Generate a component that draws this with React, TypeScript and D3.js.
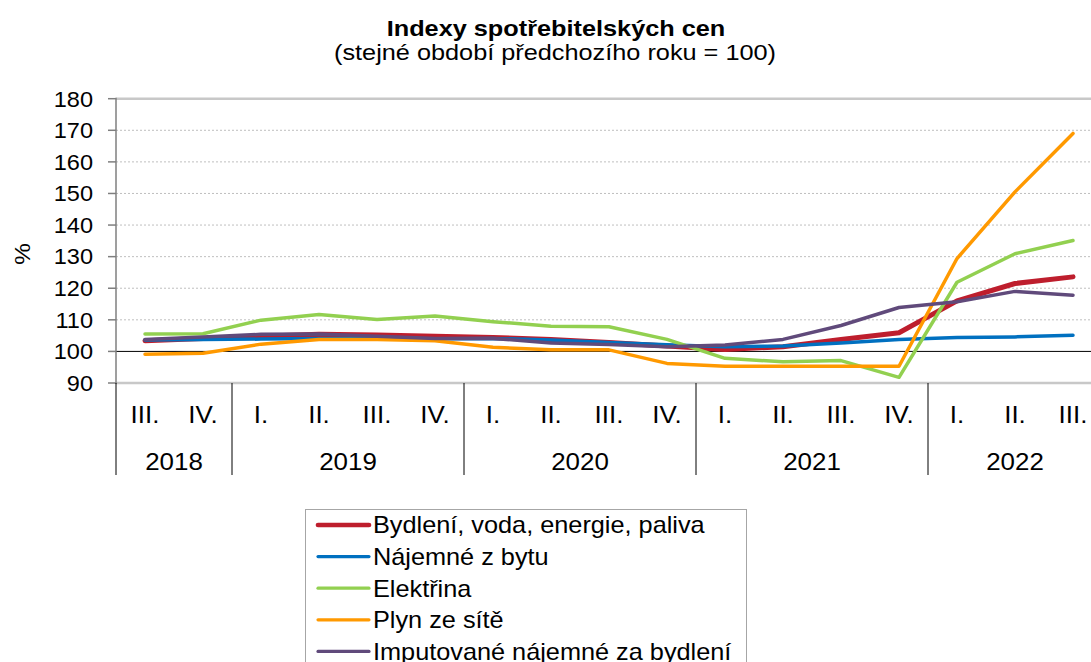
import React from "react";
import * as d3 from "d3";

const quarters = ["III.", "IV.", "I.", "II.", "III.", "IV.", "I.", "II.", "III.", "IV.", "I.", "II.", "III.", "IV.", "I.", "II.", "III."];
const yearLabels = ["2018", "2019", "2020", "2021", "2022"];
const yearCounts = [2, 4, 4, 4, 3];
const yTicks = [90, 100, 110, 120, 130, 140, 150, 160, 170, 180];

const bydleni = [103.4, 104.1, 104.8, 105.4, 105.2, 104.8, 104.4, 103.8, 102.8, 101.7, 100.6, 101.5, 103.8, 105.9, 116.0, 121.5, 123.6];
const najemne = [103.6, 103.8, 103.9, 104.1, 104.1, 104.0, 104.1, 103.6, 102.8, 102.1, 101.5, 101.7, 102.7, 103.8, 104.4, 104.6, 105.1];
const elektrina = [105.5, 105.6, 109.9, 111.7, 110.1, 111.2, 109.4, 108.0, 107.8, 103.8, 97.8, 96.7, 97.1, 91.8, 121.9, 130.9, 135.1];
const plyn = [99.1, 99.4, 102.3, 103.8, 103.8, 103.4, 101.3, 100.5, 100.5, 96.2, 95.3, 95.3, 95.3, 95.3, 129.4, 150.5, 169.0];
const imputovane = [103.8, 104.6, 105.4, 105.5, 104.8, 104.1, 104.1, 102.7, 102.2, 101.5, 102.0, 103.8, 108.2, 113.9, 115.7, 119.0, 117.8];

const seriesNames = ["Bydlení, voda, energie, paliva", "Nájemné z bytu", "Elektřina", "Plyn ze sítě", "Imputované nájemné za bydlení"];
const seriesValues = [bydleni, najemne, elektrina, plyn, imputovane];
const seriesColors = ["#BE1E2D", "#0070C0", "#92D050", "#FF9900", "#604A7B"];
const seriesWidths = [5, 3.5, 3.5, 3.5, 3.5];

const FONT = "'Liberation Sans', Arial, sans-serif";

function T({ x, y, anchor = "start", size, weight = "normal", children, rotate = 0, sx = 1.1 }: any) {
  return (
    <g transform={`translate(${x},${y}) rotate(${rotate}) scale(${sx},1)`}>
      <text x={0} y={0} textAnchor={anchor} fontSize={size} fontWeight={weight} fontFamily={FONT} fill="#000">
        {children}
      </text>
    </g>
  );
}

export default function App() {
  const left = 116;
  const right = 1102;
  const top = 98.7;
  const bottom = 383;
  const idx = quarters.map((_, i) => i);
  const x = d3.scaleBand<number>().domain(idx).range([left, right]).padding(0);
  const cx = (i: number) => (x(i) as number) + x.bandwidth() / 2;
  const y = d3.scaleLinear().domain([90, 180]).range([bottom, top]);
  const line = d3
    .line<number>()
    .x((_, i) => cx(i))
    .y((d) => y(d));

  const bounds: number[] = [0];
  yearCounts.forEach((c) => bounds.push(bounds[bounds.length - 1] + c));

  return (
    <svg width={1091} height={662} style={{ position: "absolute", left: 0, top: 0, background: "#fff" }}>
      <rect x={0} y={0} width={1091} height={662} fill="#fff" />
      <T x={556} y={35.5} anchor="middle" size={22} weight="bold" sx={1.15}>Indexy spotřebitelských cen</T>
      <T x={555} y={60} anchor="middle" size={22} sx={1.15}>(stejné období předchozího roku = 100)</T>

      {/* grid */}
      {yTicks.filter((t) => t !== 90 && t !== 100 && t !== 180).map((t) => (
        <line key={t} x1={left} x2={right} y1={y(t)} y2={y(t)} stroke="#BFBFBF" strokeWidth={1} strokeDasharray="2,2" />
      ))}
      <line x1={left} x2={right} y1={y(180)} y2={y(180)} stroke="#C8C8C8" strokeWidth={2.5} />
      <line x1={left} x2={right} y1={y(90)} y2={y(90)} stroke="#C8C8C8" strokeWidth={2.5} />
      <line x1={left} x2={right} y1={y(100)} y2={y(100)} stroke="#000" strokeWidth={1} />

      {/* y axis */}
      <line x1={left} x2={left} y1={top - 1} y2={bottom + 1} stroke="#7F7F7F" strokeWidth={1.5} />
      {yTicks.map((t) => (
        <g key={t}>
          <line x1={left - 8} x2={left} y1={y(t)} y2={y(t)} stroke="#7F7F7F" strokeWidth={1.5} />
          <T x={93} y={y(t) + 7.8} anchor="end" size={22} sx={1.07}>{String(t)}</T>
        </g>
      ))}
      <T x={30} y={254} anchor="middle" size={22} rotate={-90}>%</T>

      {/* x axis */}
      {bounds.map((b, i) => (
        <line key={i} x1={left + b * x.bandwidth()} x2={left + b * x.bandwidth()} y1={bottom} y2={475} stroke="#000" strokeWidth={1} />
      ))}
      {quarters.map((q, i) => (
        <T key={i} x={cx(i)} y={423} anchor="middle" size={24} sx={1.08}>{q}</T>
      ))}
      {yearLabels.map((yl, k) => {
        const c = (cx(bounds[k]) + cx(bounds[k + 1] - 1)) / 2;
        return (
          <T key={yl} x={c} y={470} anchor="middle" size={24} sx={1.08}>{yl}</T>
        );
      })}

      {/* series */}
      {seriesValues.map((vals, s) => (
        <path key={s} d={line(vals) as string} fill="none" stroke={seriesColors[s]} strokeWidth={seriesWidths[s]} strokeLinejoin="round" strokeLinecap="round" />
      ))}

      {/* legend */}
      <rect x={305.5} y={509.5} width={441} height={170} fill="#fff" stroke="#A6A6A6" strokeWidth={1} />
      {seriesNames.map((n, s) => {
        const ly = 525 + s * 31.6;
        return (
          <g key={n}>
            <line x1={318} x2={369} y1={ly} y2={ly} stroke={seriesColors[s]} strokeWidth={seriesWidths[s] - 0.3} strokeLinecap="round" />
            <T x={373} y={ly + 8.3} size={23}>{n}</T>
          </g>
        );
      })}
    </svg>
  );
}
